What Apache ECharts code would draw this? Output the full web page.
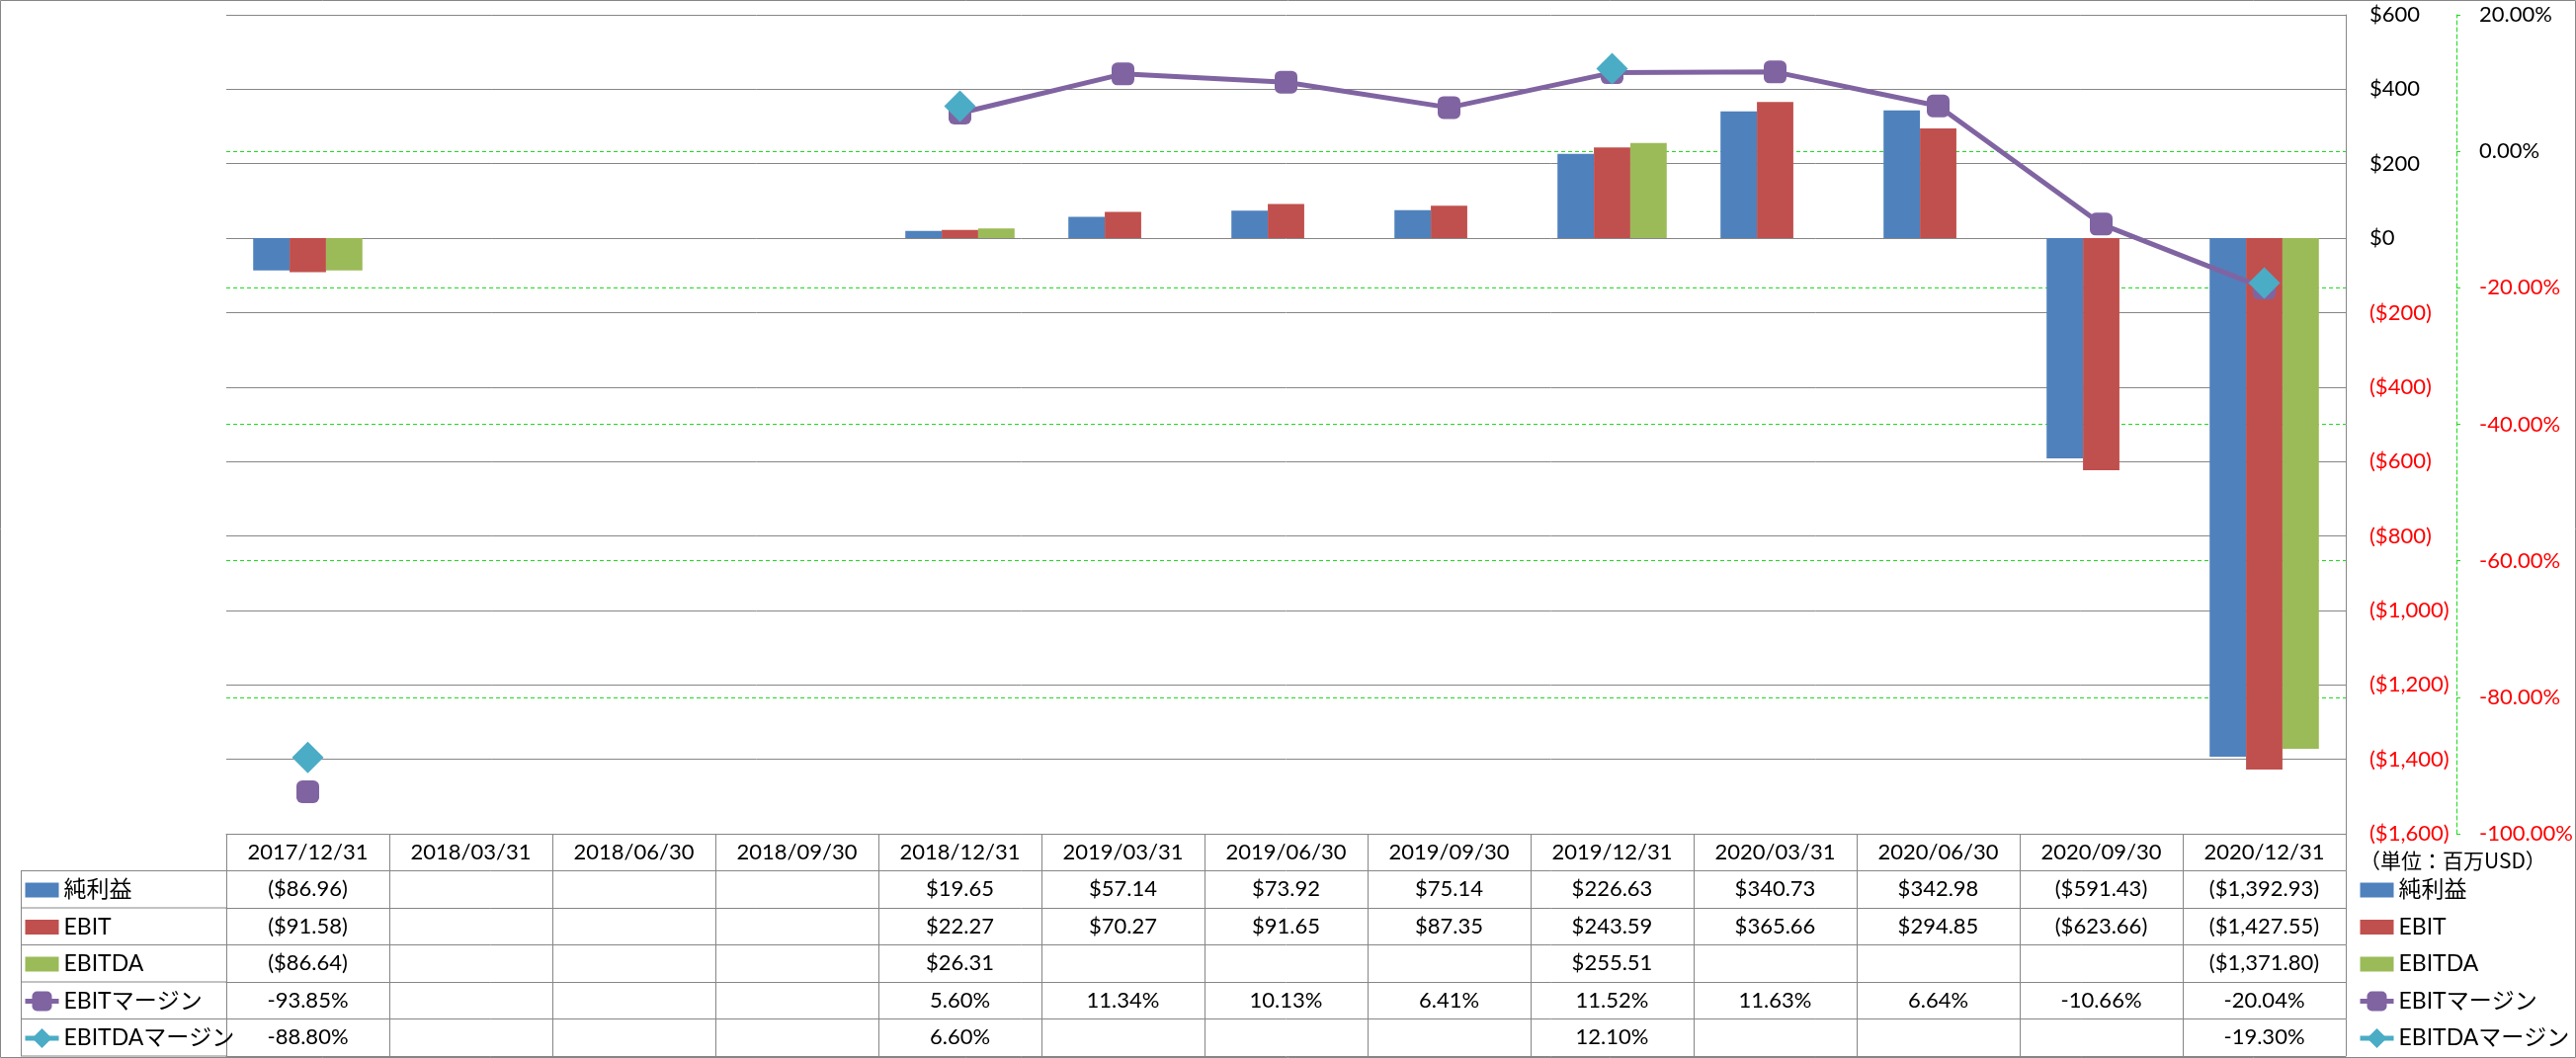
<!DOCTYPE html>
<html>
<head>
<meta charset="utf-8">
<script src="https://cdn.jsdelivr.net/npm/echarts@6/dist/echarts.min.js"></script>
<style>
html,body{margin:0;padding:0;background:#fff;}
#chart{width:2607px;height:1071px;}
</style>
</head>
<body>
<div id="chart"></div>
<script>
// ---- data ----
var categories = ['2017/12/31','2018/03/31','2018/06/30','2018/09/30','2018/12/31','2019/03/31','2019/06/30','2019/09/30','2019/12/31','2020/03/31','2020/06/30','2020/09/30','2020/12/31'];
var netIncome   = [-86.96, null, null, null, 19.65, 57.14, 73.92, 75.14, 226.63, 340.73, 342.98, -591.43, -1392.93];
var ebit        = [-91.58, null, null, null, 22.27, 70.27, 91.65, 87.35, 243.59, 365.66, 294.85, -623.66, -1427.55];
var ebitda      = [-86.64, null, null, null, 26.31, null, null, null, 255.51, null, null, null, -1371.80];
var ebitMargin  = [-93.85, null, null, null, 5.60, 11.34, 10.13, 6.41, 11.52, 11.63, 6.64, -10.66, -20.04];
var ebitdaMargin= [-88.80, null, null, null, 6.60, null, null, null, 12.10, null, null, null, -19.30];
var seriesNames = ['純利益', 'EBIT', 'EBITDA', 'EBITマージン', 'EBITDAマージン'];
var unitLabel = '（単位：百万USD）';

// ---- styling helpers ----
var FONT = 'Lato, "Noto Sans CJK JP", sans-serif';
var GRAY = '#868686';
var GREEN = '#1EDC1E';
var ROW_H = 37.5;
var COLORS = ['#4F81BD', '#C0504D', '#9BBB59', '#8064A2', '#4BACC6'];

function money(v) {
  if (v === null || v === undefined) return '';
  var s = Math.abs(v).toLocaleString('en-US', {minimumFractionDigits: 2, maximumFractionDigits: 2});
  return v < 0 ? '($' + s + ')' : '$' + s;
}
function pct(v) {
  if (v === null || v === undefined) return '';
  return v.toFixed(2) + '%';
}
var rows = [
  {vals: netIncome, fmt: money},
  {vals: ebit, fmt: money},
  {vals: ebitda, fmt: money},
  {vals: ebitMargin, fmt: pct},
  {vals: ebitdaMargin, fmt: pct}
];

var xAxes = [{
  type: 'category', data: categories, gridIndex: 0, position: 'bottom', boundaryGap: true,
  axisLine: {show: true, onZero: false, lineStyle: {color: GRAY, width: 1}},
  axisTick: {show: true, interval: 0, length: ROW_H, lineStyle: {color: GRAY, width: 1}},
  axisLabel: {interval: 0, margin: 0, lineHeight: ROW_H, fontSize: 22, fontFamily: FONT, color: '#000'},
  splitLine: {show: false}
}];
rows.forEach(function (r, k) {
  xAxes.push({
    type: 'category', data: categories, gridIndex: 0, position: 'bottom', offset: ROW_H * (k + 1), boundaryGap: true,
    axisLine: {show: true, onZero: false, lineStyle: {color: GRAY, width: 1}},
    axisTick: {show: true, interval: 0, length: ROW_H, lineStyle: {color: GRAY, width: 1}},
    axisLabel: {interval: 0, margin: 0, lineHeight: ROW_H, fontSize: 22, fontFamily: FONT, color: '#000',
      formatter: function (value, index) { return r.fmt(r.vals[index]); }},
    splitLine: {show: false}
  });
});
// bottom border of table
xAxes.push({
  type: 'category', data: categories, gridIndex: 0, position: 'bottom', offset: ROW_H * 6, boundaryGap: true,
  axisLine: {show: true, onZero: false, lineStyle: {color: GRAY, width: 1}},
  axisTick: {show: false}, axisLabel: {show: false}, splitLine: {show: false}
});

var barIcon = 'path://M0,0h32v14h-32z';
function legendCfg(left) {
  return {
    orient: 'vertical', left: left, top: 888.5, padding: 0, itemGap: 12.5,
    itemWidth: 34, itemHeight: 25, selectedMode: false,
    textStyle: {fontSize: 23, fontFamily: FONT, color: '#000', lineHeight: 25},
    data: [
      {name: seriesNames[0], icon: barIcon},
      {name: seriesNames[1], icon: barIcon},
      {name: seriesNames[2], icon: barIcon},
      {name: seriesNames[3], lineStyle: {width: 5, color: COLORS[3]}},
      {name: seriesNames[4], lineStyle: {width: 5, color: COLORS[4]}}
    ]
  };
}

var tableLeft = 21, plotLeft = 229, headTop = 844;
var graphics = [
  {type: 'rect', shape: {x: 0.5, y: 0.5, width: 2606, height: 1070}, style: {fill: null, stroke: GRAY, lineWidth: 1}, silent: true},
  {type: 'line', shape: {x1: tableLeft + 0.5, y1: headTop + ROW_H, x2: tableLeft + 0.5, y2: headTop + ROW_H * 6}, style: {stroke: GRAY, lineWidth: 1}, silent: true}
];
for (var k = 1; k <= 6; k++) {
  graphics.push({type: 'line', shape: {x1: tableLeft, y1: headTop + ROW_H * k, x2: plotLeft, y2: headTop + ROW_H * k}, style: {stroke: GRAY, lineWidth: 1}, silent: true});
}
graphics.push({type: 'text', x: 2388, y: 861, style: {text: unitLabel, font: '21px "Noto Sans CJK JP", sans-serif', fill: '#000'}, silent: true});

var option = {
  animation: false,
  backgroundColor: '#fff',
  grid: {left: plotLeft, right: 233, top: 15, bottom: 227, containLabel: false},
  legend: [legendCfg(23), legendCfg(2386)],
  xAxis: xAxes,
  yAxis: [{
    type: 'value', position: 'right', min: -1600, max: 600, interval: 200,
    axisLine: {show: true, onZero: false, lineStyle: {color: GRAY, width: 1}},
    axisTick: {show: false},
    axisLabel: {margin: 24, fontSize: 22, fontFamily: FONT,
      color: function (v) { return Number(v) < 0 ? '#FF0000' : '#000000'; },
      formatter: function (v) { var s = Math.abs(v).toLocaleString('en-US'); return v < 0 ? '($' + s + ')' : '$' + s; }},
    splitLine: {show: true, lineStyle: {color: GRAY, width: 1}}
  }, {
    type: 'value', position: 'right', offset: 112, min: -100, max: 20, interval: 20,
    axisLine: {show: true, onZero: false, lineStyle: {color: GREEN, width: 1, type: [4, 3]}},
    axisTick: {show: true, length: 7, lineStyle: {color: GREEN, width: 1, type: [4, 3]}},
    axisLabel: {margin: 23, fontSize: 22, fontFamily: FONT,
      color: function (v) { return Number(v) < 0 ? '#FF0000' : '#000000'; },
      formatter: function (v) { return Number(v).toFixed(2) + '%'; }},
    splitLine: {show: true, showMinLine: false, showMaxLine: false, lineStyle: {color: GREEN, width: 1, type: [4, 3]}}
  }],
  graphic: graphics,
  series: [
    {name: seriesNames[0], type: 'bar', data: netIncome, xAxisIndex: 0, yAxisIndex: 0, barGap: '0%', barCategoryGap: '33%', itemStyle: {color: COLORS[0]}},
    {name: seriesNames[1], type: 'bar', data: ebit, xAxisIndex: 0, yAxisIndex: 0, barGap: '0%', barCategoryGap: '33%', itemStyle: {color: COLORS[1]}},
    {name: seriesNames[2], type: 'bar', data: ebitda, xAxisIndex: 0, yAxisIndex: 0, barGap: '0%', barCategoryGap: '33%', itemStyle: {color: COLORS[2]}},
    {name: seriesNames[3], type: 'line', data: ebitMargin, xAxisIndex: 0, yAxisIndex: 1, connectNulls: false,
      symbol: 'roundRect', symbolSize: 23, showAllSymbol: true,
      lineStyle: {color: COLORS[3], width: 5}, itemStyle: {color: COLORS[3]}},
    {name: seriesNames[4], type: 'line', data: ebitdaMargin, xAxisIndex: 0, yAxisIndex: 1, connectNulls: false,
      symbol: 'diamond', symbolSize: 32, showAllSymbol: true,
      lineStyle: {color: COLORS[4], width: 5}, itemStyle: {color: COLORS[4]}}
  ]
};

var chart = echarts.init(document.getElementById('chart'), null, {renderer: 'canvas'});
chart.setOption(option);
</script>
</body>
</html>
